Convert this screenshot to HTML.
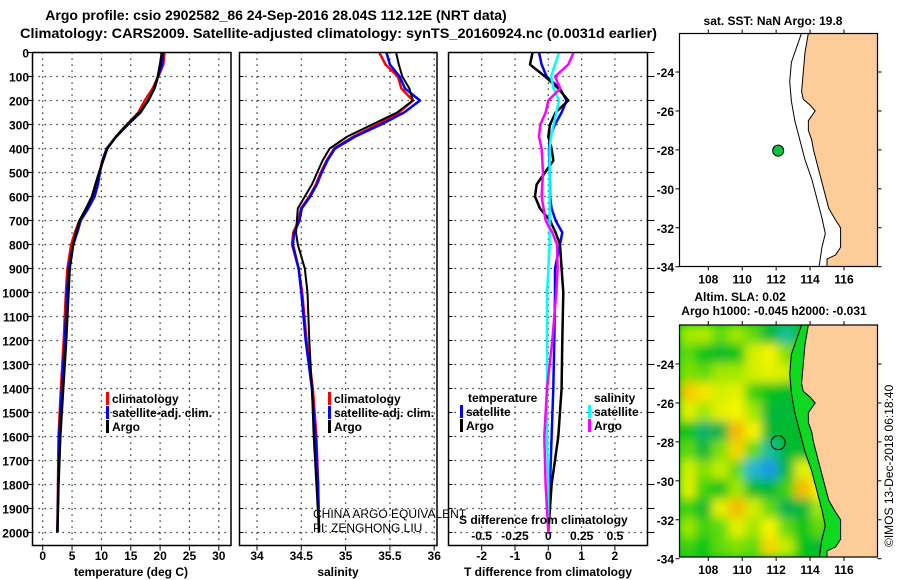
<!DOCTYPE html>
<html><head><meta charset="utf-8">
<style>
html,body{margin:0;padding:0;background:#fff;}
svg{display:block;font-family:"Liberation Sans",Arial,sans-serif;}
.b{font-weight:bold;font-size:12px;}
</style></head>
<body>
<svg id="chart" width="900" height="580" viewBox="0 0 900 580" xmlns="http://www.w3.org/2000/svg">
<defs>
<clipPath id="c1"><rect x="679.5" y="33.5" width="198" height="233"/></clipPath>
<clipPath id="c2"><rect x="679.5" y="325" width="198" height="232"/></clipPath>
<filter id="blur" x="-5%" y="-5%" width="110%" height="110%"><feGaussianBlur stdDeviation="5"/></filter>
</defs>
<text x="276" y="20" text-anchor="middle" font-weight="bold" font-size="14">Argo profile: csio 2902582_86 24-Sep-2016 28.04S 112.12E (NRT data)</text>
<text x="20" y="38" font-weight="bold" font-size="14" textLength="637" lengthAdjust="spacingAndGlyphs">Climatology: CARS2009. Satellite-adjusted climatology: synTS_20160924.nc (0.0031d earlier)</text>
<text x="773" y="25" text-anchor="middle" class="b">sat. SST: NaN Argo: 19.8</text>
<text x="740" y="301" text-anchor="middle" class="b">Altim. SLA: 0.02</text>
<text x="774" y="315" text-anchor="middle" class="b">Argo h1000: -0.045 h2000: -0.031</text>
<text transform="translate(893,547) rotate(-90)" font-size="12">©IMOS 13-Dec-2018 06:18:40</text>
<g id="g"></g>
</svg>
<script>
// ---- data ----
const depths = [0,50,100,150,200,250,300,350,400,450,500,550,600,650,700,750,800,900,1000,1200,1400,1600,1800,2000];
const tempArgo = [20.3,20.0,19.6,19.0,18.0,16.5,14.4,12.5,11.0,10.3,9.6,9.0,8.4,7.4,6.3,5.7,5.2,4.6,4.4,4.0,3.5,3.0,2.7,2.5];
const tempClim = [20.77,20.55,19.7,18.7,17.4,16.28,14.35,12.5,10.9,10.15,9.7,9.35,8.8,7.65,6.25,5.48,4.85,4.2,3.95,3.58,3.1,2.7,2.6,2.5];
const tempSat  = [20.49,20.35,19.65,19.05,17.95,16.68,14.55,12.55,10.92,10.18,9.74,9.4,8.85,7.75,6.47,5.9,5.2,4.4,4.15,3.76,3.25,2.8,2.65,2.5];
const salArgo = [35.57,35.6,35.64,35.72,35.76,35.58,35.3,35.02,34.82,34.74,34.68,34.62,34.54,34.46,34.45,34.44,34.46,34.54,34.57,34.59,34.62,34.64,34.67,34.7];
const salClim = [35.38,35.45,35.59,35.63,35.76,35.60,35.36,35.09,34.87,34.785,34.72,34.665,34.59,34.495,34.47,34.41,34.395,34.47,34.51,34.56,34.63,34.67,34.69,34.7];
const salSat  = [35.46,35.50,35.61,35.67,35.84,35.66,35.40,35.11,34.88,34.795,34.73,34.675,34.60,34.505,34.48,34.42,34.405,34.47,34.50,34.55,34.62,34.66,34.69,34.7];
const depthTicks = [0,100,200,300,400,500,600,700,800,900,1000,1100,1200,1300,1400,1500,1600,1700,1800,1900,2000];
const tempTicks = [0,5,10,15,20,25,30];
const salTicks = [34,34.5,35,35.5,36];
const salTickLabels = ["34","34.5","35","35.5","36"];
const tdiffTicks = [-2,-1,0,1,2];
const sdiffTicks = [-0.5,-0.25,0,0.25,0.5];
const sdiffTickLabels = ["-0.5","-0.25","0","0.25","0.5"];
const lonTicks = [108,110,112,114,116];
const latTicks = [-24,-26,-28,-30,-32,-34];
const argoLon = 112.12;
const argoLat = -28.04;
const slaGrid = [
[0.5,0.6,0.3,0.5,0.3,-0.3,-0.8,0,0.2,0,0,0],
[0.3,0,-0.2,0,0.8,1.0,0.4,0,0,0,0,0],
[0.4,0.3,0.5,0.5,0.8,0.9,0.8,0,0,0,0,0],
[1.3,1.1,0.8,0.9,0.2,0,-0.2,0,0,0,0,0],
[0.9,0.5,0.9,1.0,0.5,-0.3,-0.3,-0.2,0,0,0,0],
[0,-0.6,-0.4,1.4,1.0,-0.3,-0.2,-0.2,0,0,0,0],
[0.3,-0.3,0.4,1.2,0.3,-0.8,-0.3,-0.2,0,0,0,0],
[0.8,0.4,0.7,0.3,-1.2,-1.5,-0.3,0.9,0.7,0,0,0],
[0.9,0.2,0,0.5,-0.2,-0.3,0.2,1.4,1.0,0,0,0],
[0.2,-0.2,0.9,1.4,0.8,0.3,-0.5,-0.3,0.5,0,0,0],
[0.5,0.2,0.3,0.9,0.5,1.0,0.3,0,0.3,0,0,0],
[0.2,0,0.3,0.4,0.3,1.2,0.7,0,-0.3,0,0,0]];
const coastLon = [113.9,113.7,113.6,113.5,113.6,114.0,114.3,113.9,113.9,114.1,114.2,114.5,114.8,115.1,115.5,115.8,115.8,115.5,115.0,115.0];
const coastLat = [-22.0,-23,-24,-25,-25.4,-25.7,-26.0,-26.5,-27,-27.5,-28,-29,-30,-31,-31.6,-32.0,-33,-33.4,-33.6,-34.2];
const bathLon = [113.5,112.9,112.8,112.9,113.1,113.4,113.7,114.1,114.4,114.7,114.9,114.7,114.5];
const bathLat = [-22,-23.5,-24.5,-25.5,-26.5,-27.5,-28.5,-29.5,-30.5,-31.5,-32.3,-33,-34.2];

// ---- scales ----
const yD = d => 52.5 + d*0.24;
const xT = t => 42.7 + t*5.87;
const xS = s => 257 + (s-34)*88.6;
const xTd = v => 548.3 + v*33.3;
const xSd = v => 548.3 + v*133.3;
const lonX = lon => 708.3 + (lon-108)*16.96;
const latY = (lat,off) => 72 + (-24-lat)*19.47 + off;
const NS = "http://www.w3.org/2000/svg";
const G = document.getElementById('g');
function el(tag, a, parent){const e=document.createElementNS(NS,tag);for(const k in a)e.setAttribute(k,a[k]);(parent||G).appendChild(e);return e;}
function txt(s,a,parent){const e=el('text',a,parent);e.textContent=s;return e;}

const panels = [{x0:32.5,x1:231,name:'temperature'},{x0:239.5,x1:437,name:'salinity'},{x0:448.5,x1:647.5,name:'difference'}];
const PT=52.5, PB=545.5;
panels.forEach((p,i)=>{
  depthTicks.forEach(d=>{
    if(d>0){const gl=el('line',{x1:p.x0,x2:p.x1,y1:yD(d),y2:yD(d),stroke:'#000','stroke-width':1.2,'stroke-dasharray':'1.2 4.8'});
    
    }
    const tk=el('line',{x1:i===0?p.x0-6:p.x0,x2:i===0?p.x0:p.x0+4,y1:yD(d),y2:yD(d),stroke:'#000','stroke-width':1});
    
    
    if(i===2){const tr=el('line',{x1:p.x1,x2:p.x1+7,y1:yD(d),y2:yD(d),stroke:'#000','stroke-width':1});
      
      }
  });
});
depthTicks.forEach(d=>{
  const t=txt(String(d),{x:29,y:yD(d)+5,'text-anchor':'end',class:'b'});
  
  
});
function vgrid(vals,fx,labels,ly,name){
  vals.forEach((v,k)=>{
    const gl=el('line',{x1:fx(v),x2:fx(v),y1:PT,y2:PB,stroke:'#000','stroke-width':1.2,'stroke-dasharray':'1.2 4.8'});
    
    
    const tk=el('line',{x1:fx(v),x2:fx(v),y1:PB,y2:PB+5,stroke:'#000'});
    
    
    const t=txt(labels[k],{x:fx(v),y:ly,'text-anchor':'middle',class:'b'});
    
    
  });
}
vgrid(tempTicks,xT,tempTicks.map(String),560,'temperature');
vgrid(salTicks,xS,salTickLabels,560,'salinity');
vgrid(tdiffTicks,xTd,tdiffTicks.map(String),560,'t-difference');
sdiffTicks.forEach((v,k)=>{
  const t=txt(sdiffTickLabels[k],{x:xSd(v),y:540,'text-anchor':'middle',class:'b'});
  
  
});
function line(xs,fx,color,name,w){
  const pts=xs.map((v,k)=>fx(v).toFixed(1)+','+yD(depths[k]).toFixed(1)).join(' ');
  const l=el('polyline',{points:pts,fill:'none',stroke:color,'stroke-width':w||2.5,'stroke-linejoin':'round'});
  
  
}
line(tempClim,xT,'#ff0000','temperature-climatology-line');
line(tempSat,xT,'#0000ff','temperature-satellite-line');
line(tempArgo,xT,'#000000','temperature-argo-line');
line(salClim,xS,'#ff0000','salinity-climatology-line');
line(salSat,xS,'#0000ff','salinity-satellite-line');
line(salArgo,xS,'#000000','salinity-argo-line',2);
line(tempSat.map((v,k)=>v-tempClim[k]),xTd,'#0000ff','t-diff-satellite-line');
line(tempArgo.map((v,k)=>v-tempClim[k]),xTd,'#000000','t-diff-argo-line');
line(salSat.map((v,k)=>v-salClim[k]),xSd,'#00ffff','s-diff-satellite-line');
line(salArgo.map((v,k)=>v-salClim[k]),xSd,'#ff00ff','s-diff-argo-line');
panels.forEach(p=>{
  const r=el('rect',{x:p.x0,y:PT,width:p.x1-p.x0,height:PB-PT,fill:'none',stroke:'#000','stroke-width':1.5});
  
  
});
function leg(x,y,color,label,name){
  const b=el('rect',{x:x,y:y-11,width:3,height:13,fill:color});
  
  
  const t=txt(label,{x:x+6,y:y,class:'b'});
  
  
}
leg(106,403,'#ff0000','climatology','legend-temp-climatology');
leg(106,417,'#0000ff','satellite-adj. clim.','legend-temp-satellite');
leg(106,431,'#000000','Argo','legend-temp-argo');
leg(328,403,'#ff0000','climatology','legend-sal-climatology');
leg(328,417,'#0000ff','satellite-adj. clim.','legend-sal-satellite');
leg(328,431,'#000000','Argo','legend-sal-argo');
const lt=txt('temperature',{x:468,y:402,class:'b'});


leg(460,416,'#0000ff','satellite','legend-diff-temp-satellite');
leg(460,430,'#000000','Argo','legend-diff-temp-argo');
const ls=txt('salinity',{x:594,y:402,class:'b'});


leg(588,416,'#00ffff','satellite','legend-diff-sal-satellite');
leg(588,430,'#ff00ff','Argo','legend-diff-sal-argo');
const c1=txt('CHINA ARGO EQUIVALENT',{x:313,y:518,'font-size':12});


const c2=txt('PI: ZENGHONG LIU',{x:313,y:532,'font-size':12});


const sd=txt('S difference from climatology',{x:459,y:524,class:'b'});


const xt1=txt('temperature (deg C)',{x:131,y:576,'text-anchor':'middle',class:'b'});


const xt2=txt('salinity',{x:338,y:576,'text-anchor':'middle',class:'b'});


const xt3=txt('T difference from climatology',{x:548,y:576,'text-anchor':'middle',class:'b'});



// ---- maps ----
function slaColor(v){
  const stops=[[-1.5,[30,150,230]],[-1,[40,200,200]],[-0.5,[0,176,80]],[0,[0,196,20]],[0.5,[160,232,0]],[1,[245,245,0]],[1.5,[245,170,0]]];
  v=Math.max(-1.5,Math.min(1.5,v));
  for(let i=0;i<stops.length-1;i++){const a=stops[i],b=stops[i+1];if(v<=b[0]){const f=(v-a[0])/(b[0]-a[0]);return 'rgb('+a[1].map((c,j)=>Math.round(c+(b[1][j]-c)*f)).join(',')+')';}}
  return 'rgb(245,170,0)';
}
function drawMap(off,clip,heat,name){
  const top=off===0?33.5:325, h=off===0?233:232;
  const mg=el('g',{'clip-path':'url(#'+clip+')'});
  
  
  const bg=el('rect',{x:679.5,y:top,width:198,height:h,fill:heat?'#00c414':'#fff'},mg);
  
  
  if(heat){
    const hg=el('g',{filter:'url(#blur)'},mg);
    
    
    const cw=198/12, ch=h/12;
    slaGrid.forEach((row,r)=>row.forEach((v,c)=>{
      const cell=el('rect',{x:679.5+c*cw-0.5,y:top+r*ch-0.5,width:cw+1,height:ch+1,fill:slaColor(v)},hg);
      
      
    }));
    const shelf=el('polygon',{points:bathLon.map((lo,k)=>lonX(lo)+','+latY(bathLat[k],off)).join(' ')+' '+lonX(118)+','+latY(-34.5,off)+' '+lonX(118)+','+latY(-21.5,off),fill:'#10d820'},mg);
    
    
  }
  const land=el('polygon',{points:coastLon.map((lo,k)=>lonX(lo)+','+latY(coastLat[k],off)).join(' ')+' '+lonX(118.5)+','+latY(-34.5,off)+' '+lonX(118.5)+','+latY(-21.5,off),fill:'#fccc99',stroke:'#000','stroke-width':1},mg);
  
  
  const bath=el('polyline',{points:bathLon.map((lo,k)=>lonX(lo)+','+latY(bathLat[k],off)).join(' '),fill:'none',stroke:'#000','stroke-width':1},mg);
  
  
  const dot=el('circle',{cx:lonX(argoLon),cy:latY(argoLat,off),r:heat?7:5.5,fill:heat?'none':'#10c040',stroke:'#000','stroke-width':1},mg);
  
  
  const fr=el('rect',{x:679.5,y:top,width:198,height:h,fill:'none',stroke:'#000','stroke-width':1.2});
  
  
  lonTicks.forEach(lo=>{
    const t1=el('line',{x1:lonX(lo),x2:lonX(lo),y1:top-4,y2:top,stroke:'#000'});
    
    
    const t2=el('line',{x1:lonX(lo),x2:lonX(lo),y1:top+h,y2:top+h+4,stroke:'#000'});
    
    
    const tl=txt(String(lo),{x:lonX(lo),y:top+h+17,'text-anchor':'middle',class:'b'});
    
    
  });
  latTicks.forEach(la=>{
    const y=latY(la,off);
    const t1=el('line',{x1:675.5,x2:679.5,y1:y,y2:y,stroke:'#000'});
    
    
    const t2=el('line',{x1:877.5,x2:881.5,y1:y,y2:y,stroke:'#000'});
    
    
    const tl=txt(String(la),{x:674,y:y+5,'text-anchor':'end',class:'b'});
    
    
  });
}
drawMap(0,'c1',false,'sst-map');
drawMap(292,'c2',true,'sla-map');
</script>
</body></html>
